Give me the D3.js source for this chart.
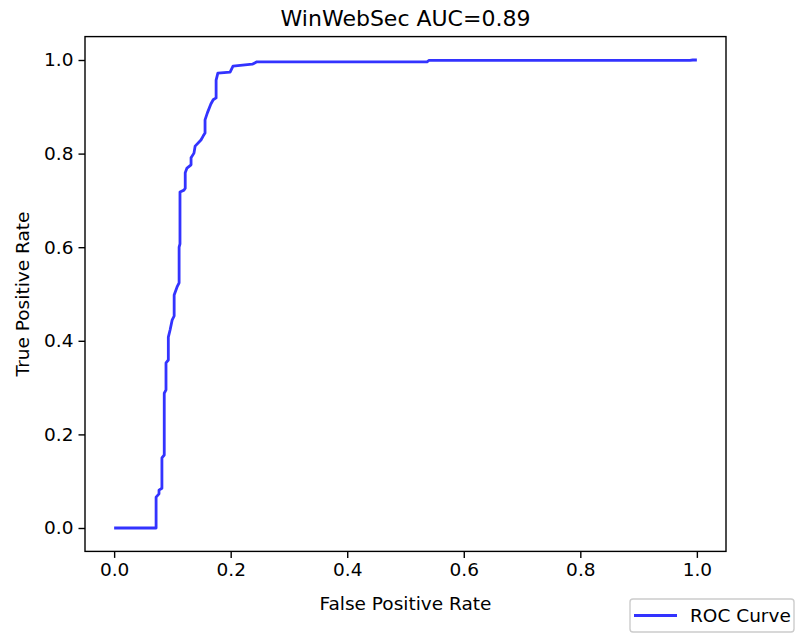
<!DOCTYPE html>
<html>
<head>
<meta charset="utf-8">
<script src="https://cdn.jsdelivr.net/npm/d3@7"></script>
<style>
body{margin:0;background:#fff;}
text{font-family:"DejaVu Sans",sans-serif;fill:#000;}
</style>
</head>
<body>
<svg id="canvas" width="797" height="634"></svg>
<script>
// roc points
let fpr=[0,0.072,0.072,0.077,0.077,0.082,0.082,0.086,0.086,0.089,0.089,0.093,0.093,0.096,0.0995,0.103,0.103,0.108,0.1115,0.1115,0.113,0.113,0.120,0.122,0.122,0.125,0.132,0.132,0.137,0.139,0.149,0.153,0.156,0.156,0.160,0.166,0.170,0.175,0.175,0.178,0.199,0.204,0.237,0.245,0.537,0.540,0.988,0.993,1.0];
let tpr=[0,0,0.066,0.073,0.081,0.085,0.150,0.156,0.288,0.295,0.353,0.359,0.408,0.423,0.444,0.453,0.498,0.515,0.524,0.600,0.607,0.718,0.722,0.726,0.759,0.769,0.776,0.791,0.801,0.816,0.829,0.838,0.844,0.872,0.887,0.906,0.915,0.919,0.957,0.972,0.974,0.987,0.991,0.996,0.996,0.999,0.999,1.0,1.0];
let xTicks=[0,0.2,0.4,0.6,0.8,1.0];
let yTicks=[0,0.2,0.4,0.6,0.8,1.0];
let title="WinWebSec AUC=0.89";
let xLabel="False Positive Rate", yLabel="True Positive Rate", legendLabel="ROC Curve";

let canvas=d3.select("#canvas");
let padL=85,padR=726,padT=36.6,padB=551.4;
let lineColor="rgb(51,51,255)";

let xScale=d3.scaleLinear().domain([-0.05,1.05]).range([padL,padR]);
let yScale=d3.scaleLinear().domain([-0.05,1.05]).range([padB,padT]);

let xAxis=d3.axisBottom(xScale).tickValues(xTicks).tickFormat(d3.format(".1f")).tickSizeInner(6.5).tickSizeOuter(0).tickPadding(5);
let yAxis=d3.axisLeft(yScale).tickValues(yTicks).tickFormat(d3.format(".1f")).tickSizeInner(6.5).tickSizeOuter(0).tickPadding(5);

let gx=canvas.append("g").attr("transform","translate(0,"+padB+")").call(xAxis);
let gy=canvas.append("g").attr("transform","translate("+padL+",0)").call(yAxis);
[gx,gy].forEach(g=>{
  g.select(".domain").remove();
  g.selectAll(".tick line").attr("stroke","#000").attr("stroke-width",1.4);
  g.selectAll(".tick text").style("font-size","18.5px").attr("fill","#000").style("font-family","DejaVu Sans");
});

let pts=fpr.map((f,i)=>[f,tpr[i]]);
let line=d3.line().x(d=>xScale(d[0])).y(d=>yScale(d[1]));
canvas.append("path").datum(pts).attr("d",line).attr("fill","none").attr("stroke",lineColor).attr("stroke-width",2.8).attr("stroke-linejoin","round");

// frame
canvas.append("rect").attr("x",padL).attr("y",padT).attr("width",padR-padL).attr("height",padB-padT).attr("fill","none").attr("stroke","#000").attr("stroke-width",1.4);

canvas.append("text").attr("x",(padL+padR)/2).attr("y",padT-11).attr("text-anchor","middle").style("font-size","22px").text(title);
canvas.append("text").attr("x",(padL+padR)/2).attr("y",610).attr("text-anchor","middle").style("font-size","18.5px").text(xLabel);
canvas.append("text").attr("transform","translate(29,"+((padT+padB)/2)+") rotate(-90)").attr("text-anchor","middle").style("font-size","18.5px").text(yLabel);

// legend
let lg=canvas.append("g").attr("transform","translate(630,599)");
lg.append("rect").attr("x",0).attr("y",0).attr("width",164).attr("height",33).attr("rx",3).attr("fill","#fff").attr("stroke","#ccc").attr("stroke-width",1.4);
lg.append("line").attr("x1",4).attr("x2",47).attr("y1",16.5).attr("y2",16.5).attr("stroke",lineColor).attr("stroke-width",2.8);
lg.append("text").attr("x",60).attr("y",23).style("font-size","18.5px").text(legendLabel);
</script>
</body>
</html>
